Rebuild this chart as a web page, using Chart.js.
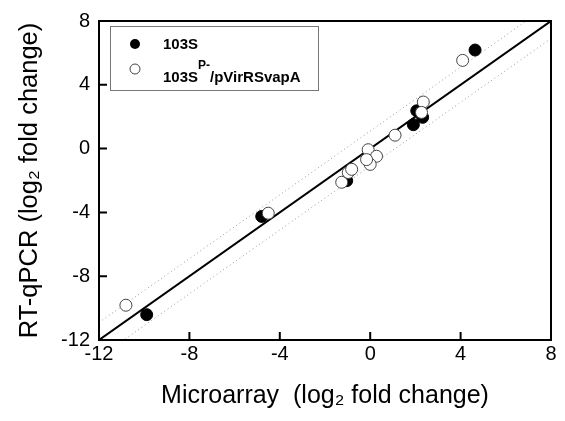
<!DOCTYPE html>
<html>
<head>
<meta charset="utf-8">
<script src="https://cdn.jsdelivr.net/npm/chart.js@4"></script>
<style>
  html, body { margin: 0; padding: 0; background: #fff; }
  #wrap { width: 565px; height: 421px; }
</style>
</head>
<body>
<div id="wrap"><canvas id="chart" width="565" height="421"></canvas></div>
<script>
// 103S (filled circles)
const wtMicro = [4.64, -9.89, -4.8, -1.04, 2.06, 2.32, 1.91];
const wtQpcr = [6.18, -10.41, -4.25, -2.01, 2.37, 1.96, 1.5];

// 103S P-/pVirRSvapA (open circles)
const compMicro = [4.09, -10.81, -4.51, 2.35, 2.27, 1.1, -0.09, 0.28, 0, -0.16, -1.26, -0.97, -0.82];
const compQpcr = [5.53, -9.82, -4.05, 2.92, 2.27, 0.84, -0.07, -0.48, -0.99, -0.69, -2.11, -1.5, -1.3];

// line of identity and the dotted band around it
const lineX = [-12, 8];
const bandOffset = 1.1;

const axisTicks = [-12, -8, -4, 0, 4, 8];

const FONT = '"Liberation Sans", Arial, sans-serif';

function toPoints(xs, ys) {
  return xs.map(function (x, i) { return { x: x, y: ys[i] }; });
}

const frame = {
  id: 'frame',
  afterDraw(chart) {
    const ctx = chart.ctx;
    const a = chart.chartArea;
    const xs = chart.scales.x, ys = chart.scales.y;
    ctx.save();
    ctx.strokeStyle = '#000';
    ctx.lineWidth = 2;
    ctx.strokeRect(a.left, a.top, a.right - a.left, a.bottom - a.top);
    // inward ticks on bottom and left
    ctx.beginPath();
    axisTicks.forEach(function (v) {
      const px = xs.getPixelForValue(v);
      ctx.moveTo(px, a.bottom);
      ctx.lineTo(px, a.bottom - 8);
      const py = ys.getPixelForValue(v);
      ctx.moveTo(a.left, py);
      ctx.lineTo(a.left + 8, py);
    });
    ctx.stroke();

    // legend
    ctx.lineWidth = 1;
    ctx.strokeStyle = '#777';
    ctx.strokeRect(110.5, 26.5, 208, 64);
    ctx.fillStyle = '#000';
    ctx.beginPath();
    ctx.arc(135, 44, 5, 0, Math.PI * 2);
    ctx.fill();
    ctx.fillStyle = '#fff';
    ctx.strokeStyle = '#444';
    ctx.beginPath();
    ctx.arc(135, 69, 5, 0, Math.PI * 2);
    ctx.fill();
    ctx.stroke();

    ctx.fillStyle = '#000';
    ctx.textBaseline = 'alphabetic';
    ctx.font = 'bold 15px ' + FONT;
    ctx.fillText('103S', 163, 49);
    ctx.fillText('103S', 163, 82);
    const w = ctx.measureText('103S').width;
    ctx.font = 'bold 12px ' + FONT;
    ctx.fillText('P-', 163 + w, 69);
    const w2 = ctx.measureText('P-').width;
    ctx.font = 'bold 15px ' + FONT;
    ctx.fillText('/pVirRSvapA', 163 + w + w2, 82);
    ctx.restore();
  }
};

const ctx = document.getElementById('chart');
new Chart(ctx, {
  type: 'scatter',
  data: {
    datasets: [
      {
        label: '103S P-/pVirRSvapA',
        data: toPoints(compMicro, compQpcr),
        pointRadius: 6,
        pointBackgroundColor: '#fff',
        pointBorderColor: '#444',
        pointBorderWidth: 1,
        order: 1
      },
      {
        label: '103S',
        data: toPoints(wtMicro, wtQpcr),
        pointRadius: 6,
        pointBackgroundColor: '#000',
        pointBorderColor: '#000',
        pointBorderWidth: 1,
        order: 2
      },
      {
        type: 'line',
        label: 'identity',
        data: toPoints(lineX, lineX),
        borderColor: '#000',
        borderWidth: 2,
        pointRadius: 0,
        order: 3
      },
      {
        type: 'line',
        label: 'upper',
        data: toPoints(lineX, lineX.map(function (v) { return v + bandOffset; })),
        borderColor: '#999',
        borderWidth: 1,
        borderDash: [1, 3],
        pointRadius: 0,
        order: 4
      },
      {
        type: 'line',
        label: 'lower',
        data: toPoints(lineX, lineX.map(function (v) { return v - bandOffset; })),
        borderColor: '#999',
        borderWidth: 1,
        borderDash: [1, 3],
        pointRadius: 0,
        order: 4
      }
    ]
  },
  options: {
    responsive: false,
    animation: false,
    layout: { padding: { top: 13, right: 14, left: 0, bottom: 0 } },
    plugins: {
      legend: { display: false },
      tooltip: { enabled: false }
    },
    scales: {
      x: {
        type: 'linear',
        min: -12,
        max: 8,
        afterBuildTicks: function (s) { s.ticks = axisTicks.map(function (v) { return { value: v }; }); },
        afterFit: function (s) { s.height = 81; },
        grid: { display: false, drawTicks: false },
        border: { display: true, color: '#000', width: 2 },
        ticks: {
          color: '#000',
          padding: 2,
          maxRotation: 0,
          font: { family: FONT, size: 20 }
        },
        title: {
          display: true,
          text: 'Microarray  (log\u2082 fold change)',
          color: '#000',
          padding: { top: 4, bottom: 10 },
          font: { family: FONT, size: 25 }
        }
      },
      y: {
        type: 'linear',
        min: -12,
        max: 8,
        afterBuildTicks: function (s) { s.ticks = axisTicks.map(function (v) { return { value: v }; }); },
        afterFit: function (s) { s.width = 99; },
        grid: { display: false, drawTicks: false },
        border: { display: true, color: '#000', width: 2 },
        ticks: {
          color: '#000',
          padding: 9,
          font: { family: FONT, size: 20 }
        },
        title: {
          display: true,
          text: 'RT-qPCR (log\u2082 fold change)',
          color: '#000',
          padding: { top: 15, bottom: 4 },
          font: { family: FONT, size: 25.5 }
        }
      }
    }
  },
  plugins: [frame]
});
</script>
</body>
</html>
